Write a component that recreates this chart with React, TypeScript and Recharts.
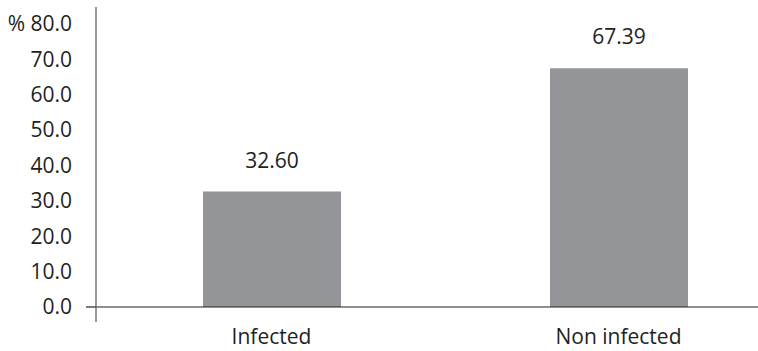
import React from "react";
import { BarChart, Bar, XAxis, YAxis, LabelList } from "recharts";

const categories = ["Infected", "Non infected"];
const percentValues = [32.6, 67.39];
const yTicks = [0, 10, 20, 30, 40, 50, 60, 70, 80];

const data = categories.map((name, i) => ({ name, value: percentValues[i] }));

const TEXT = "#231f20";
const FONT = "Open Sans";
const FS = 21;
const Y_MARGIN = 24;

const fmtY = (v: number) => (v === 80 ? "% 80.0" : v.toFixed(1));

const YTick = (props: any) => {
  const { x, y, payload } = props;
  const axisX = x + Y_MARGIN;
  return (
    <g>
      <text x={x} y={y} dy="0.355em" textAnchor="end" fill={TEXT} fontSize={FS} fontFamily={FONT}>
        {fmtY(payload.value)}
      </text>
      {payload.value === 0 && (
        <>
          <line x1={axisX - 10} x2={axisX} y1={y} y2={y} stroke={TEXT} strokeWidth={1.2} />
          <line x1={axisX} x2={axisX} y1={y} y2={y + 15} stroke="#6d6e71" strokeWidth={1.4} />
        </>
      )}
    </g>
  );
};

export default function App() {
  return (
    <div style={{ position: "absolute", left: 0, top: 0, width: 758, height: 351, overflow: "hidden", background: "#fff" }}>
      <BarChart width={800} height={351} data={data} margin={{ top: 7, right: 8, left: 0, bottom: 0 }}>
        <XAxis
          dataKey="name"
          height={44}
          padding={{ left: 2, right: 0 }}
          tickLine={false}
          tickSize={0}
          tickMargin={22}
          axisLine={{ stroke: TEXT, strokeWidth: 1.2 }}
          tick={{ fill: TEXT, fontSize: FS, fontFamily: FONT }}
        />
        <YAxis
          width={96}
          domain={[0, 84.7]}
          ticks={yTicks}
          interval={0}
          tickLine={false}
          tickSize={0}
          tickMargin={Y_MARGIN}
          axisLine={{ stroke: "#6d6e71", strokeWidth: 1.4 }}
          tick={<YTick />}
        />
        <Bar dataKey="value" fill="#939598" barSize={138} isAnimationActive={false}>
          <LabelList
            dataKey="value"
            position="top"
            offset={24}
            formatter={(v: any) => Number(v).toFixed(2)}
            fill={TEXT}
            fontSize={FS}
            fontFamily={FONT}
          />
        </Bar>
      </BarChart>
    </div>
  );
}
